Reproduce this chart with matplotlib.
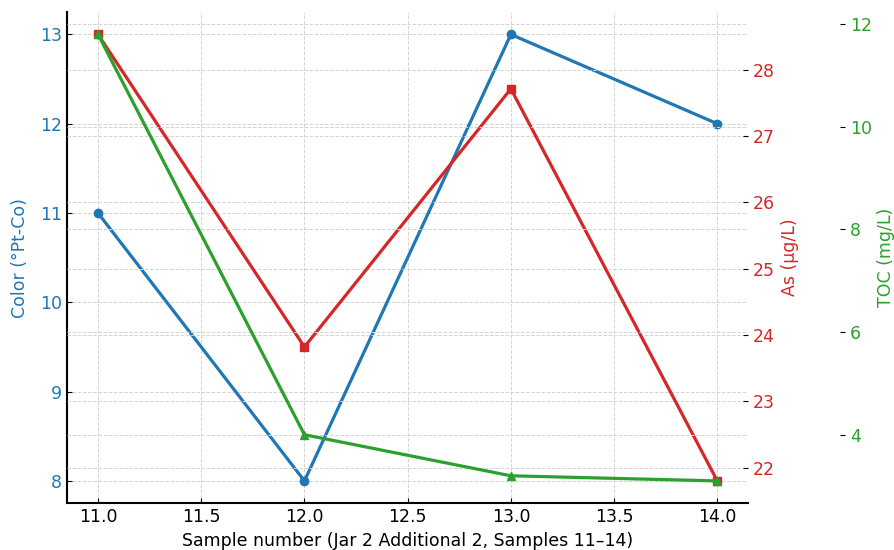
import matplotlib
matplotlib.use('Agg')
import matplotlib.pyplot as plt

samples = [11, 12, 13, 14]
color_pt_co = [11, 8, 13, 12]
arsenic = [28.53, 23.82, 27.71, 21.8]
toc = [11.8, 4.0, 3.2, 3.1]

plt.rcParams['font.size'] = 12.5


def main():
    fig, ax = plt.subplots(figsize=(8.94, 5.5), dpi=100)
    fig.subplots_adjust(left=0.075, right=0.837, top=0.978, bottom=0.085)

    ax.plot(samples, color_pt_co, color='tab:blue', marker='o', lw=2.3, ms=6)
    ax.set_xlabel('Sample number (Jar 2 Additional 2, Samples 11–14)')
    ax.set_ylabel('Color (°Pt-Co)', color='tab:blue', labelpad=8)
    ax.tick_params(axis='y', labelcolor='tab:blue', direction='in')
    ax.tick_params(axis='x', direction='in')
    ax.set_yticks([8, 9, 10, 11, 12, 13])
    ax.set_xticks([11.0, 11.5, 12.0, 12.5, 13.0, 13.5, 14.0])
    ax.grid(True, linestyle='--', color='#d4d4d4', linewidth=0.7)

    ax2 = ax.twinx()
    ax2.plot(samples, arsenic, color='tab:red', marker='s', lw=2.3, ms=6)
    ax2.set_ylabel('As (µg/L)', color='tab:red')
    ax2.tick_params(axis='y', labelcolor='tab:red', direction='in')

    ax3 = ax.twinx()
    ax3.spines['right'].set_position(('axes', 1.142))
    ax3.plot(samples, toc, color='tab:green', marker='^', lw=2.3, ms=6)
    ax3.set_ylabel('TOC (mg/L)', color='tab:green')
    ax3.tick_params(axis='y', labelcolor='tab:green', direction='in')
    ax3.set_yticks([4, 6, 8, 10, 12])

    for a in (ax2, ax3):
        a.grid(True, axis='y', linestyle='--', color='#d4d4d4', linewidth=0.7)
        a.spines['left'].set_visible(False)
        a.spines['bottom'].set_visible(False)
    for a in (ax, ax2, ax3):
        a.spines['top'].set_visible(False)
        a.spines['right'].set_visible(False)
    ax.spines['left'].set_linewidth(1.5)
    ax.spines['bottom'].set_linewidth(1.5)

    fig.savefig('out.png')


if __name__ == '__main__':
    main()
